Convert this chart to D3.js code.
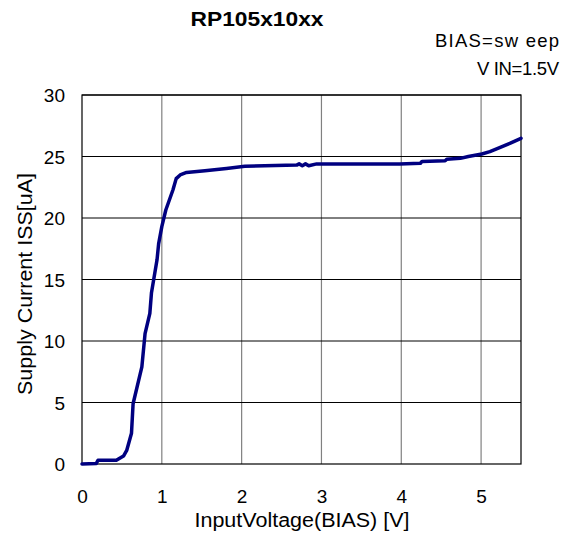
<!DOCTYPE html>
<html>
<head>
<meta charset="utf-8">
<script src="https://cdn.jsdelivr.net/npm/d3@7"></script>
<style>
  body { margin: 0; background: #fff; }
  text { font-family: "Liberation Sans", Arial, sans-serif; fill: #000; }
</style>
</head>
<body>
<div class="svg"></div>
<script>
// curve: bias voltage [V] vs supply current [uA]
var voltage = [0, 0.18, 0.2, 0.43, 0.52, 0.56, 0.62, 0.64, 0.75, 0.79, 0.85, 0.87, 0.94, 0.96, 1.0, 1.05, 1.14, 1.18, 1.23, 1.31, 1.54, 1.81, 2.04, 2.69, 2.72, 2.76, 2.8, 2.84, 2.94, 3.98, 4.24, 4.26, 4.55, 4.57, 4.74, 4.84, 5.01, 5.11, 5.24, 5.36, 5.5];
var current = [0, 0.05, 0.3, 0.3, 0.65, 1.1, 2.5, 4.9, 7.9, 10.6, 12.25, 13.9, 16.6, 17.9, 19.3, 20.65, 22.3, 23.2, 23.5, 23.7, 23.85, 24.03, 24.2, 24.3, 24.4, 24.25, 24.4, 24.25, 24.4, 24.4, 24.45, 24.6, 24.65, 24.77, 24.85, 25.0, 25.2, 25.4, 25.75, 26.07, 26.48];
var xTicks = [0, 1, 2, 3, 4, 5];
var yTicks = [0, 5, 10, 15, 20, 25, 30];

var width = 566, height = 539;
var margin = {top: 95, right: 45, bottom: 75, left: 82};
var w = width - margin.left - margin.right,
    h = height - margin.top - margin.bottom;

var svg = d3.select(".svg").append("svg")
    .attr("width", width)
    .attr("height", height);

var g = svg.append("g")
    .attr("transform", "translate(" + margin.left + "," + margin.top + ")");

var x = d3.scaleLinear().domain([0, 5.5]).range([0, w]);
var y = d3.scaleLinear().domain([0, 30]).range([h, 0]);

// vertical grid (gray)
g.selectAll(".vgrid").data(xTicks.slice(1)).enter().append("line")
    .attr("x1", function(d) { return x(d); })
    .attr("x2", function(d) { return x(d); })
    .attr("y1", 0).attr("y2", h)
    .attr("stroke", "#808080").attr("stroke-width", 1.2);

// horizontal grid (black)
g.selectAll(".hgrid").data(yTicks.slice(1)).enter().append("line")
    .attr("x1", 0).attr("x2", w)
    .attr("y1", function(d) { return y(d); })
    .attr("y2", function(d) { return y(d); })
    .attr("stroke", "#000").attr("stroke-width", 1);

// frame
g.append("rect")
    .attr("width", w).attr("height", h)
    .attr("fill", "none").attr("stroke", "#000").attr("stroke-width", 1.2);

// axes, labels only
var xAxis = d3.axisBottom(x).tickValues(xTicks).tickFormat(d3.format("d")).tickSize(0);
var yAxis = d3.axisLeft(y).tickValues(yTicks).tickFormat(d3.format("d")).tickSize(0).tickPadding(17);

g.append("g").attr("transform", "translate(0," + h + ")").call(xAxis)
    .call(function(s) { s.select(".domain").remove(); })
    .selectAll("text").style("font-size", "19px").style("font-family", "Liberation Sans, Arial, sans-serif")
    .attr("dy", null).attr("y", 39);

g.append("g").call(yAxis)
    .call(function(s) { s.select(".domain").remove(); })
    .selectAll("text").style("font-size", "19px").style("font-family", "Liberation Sans, Arial, sans-serif")
    .attr("dy", "0.36em");

// the curve
var data = voltage.map(function(v, i) { return {v: v, c: current[i]}; });
var line = d3.line()
    .x(function(d) { return x(d.v); })
    .y(function(d) { return y(d.c); });

g.append("path")
    .attr("d", line(data))
    .attr("fill", "none")
    .attr("stroke", "#000080")
    .attr("stroke-width", 3.5)
    .attr("stroke-linejoin", "round")
    .attr("stroke-linecap", "round");

// titles
svg.append("text")
    .attr("x", 257).attr("y", 26)
    .attr("text-anchor", "middle")
    .attr("textLength", 133).attr("lengthAdjust", "spacingAndGlyphs")
    .style("font-size", "21px").style("font-weight", "bold")
    .text("RP105x10xx");

svg.append("text")
    .attr("x", 559).attr("y", 47)
    .attr("text-anchor", "end")
    .attr("textLength", 124).attr("lengthAdjust", "spacing")
    .style("font-size", "18.5px")
    .text("BIAS=sw eep");

svg.append("text")
    .attr("x", 559).attr("y", 75)
    .attr("text-anchor", "end")
    .attr("textLength", 82).attr("lengthAdjust", "spacing")
    .style("font-size", "18.5px")
    .text("V IN=1.5V");

svg.append("text")
    .attr("x", 302).attr("y", 527)
    .attr("text-anchor", "middle")
    .attr("textLength", 215).attr("lengthAdjust", "spacingAndGlyphs")
    .style("font-size", "20px")
    .text("InputVoltage(BIAS) [V]");

svg.append("text")
    .attr("transform", "translate(32,284) rotate(-90)")
    .attr("text-anchor", "middle")
    .attr("textLength", 222).attr("lengthAdjust", "spacingAndGlyphs")
    .style("font-size", "20px")
    .text("Supply Current ISS[uA]");
</script>
</body>
</html>
